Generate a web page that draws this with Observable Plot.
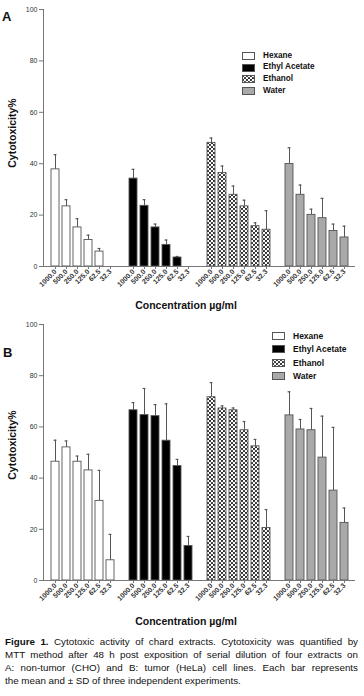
<!DOCTYPE html>
<html><head><meta charset="utf-8">
<script src="https://cdn.jsdelivr.net/npm/d3@7"></script>
<script src="https://cdn.jsdelivr.net/npm/@observablehq/plot@0.6"></script>
<style>
body{margin:0;background:#fff;font-family:"Liberation Sans",Arial,sans-serif;color:#111;}
#wrap{position:relative;width:364px;height:696px;overflow:hidden;}
.abs{position:absolute;}
.letter{font-weight:bold;font-size:13px;line-height:1;}
.ylab{font-weight:bold;font-size:10.5px;line-height:12px;width:90px;height:12px;text-align:center;transform:rotate(-90deg);white-space:nowrap;}
.xlab{left:0;width:372px;text-align:center;font-weight:bold;font-size:10.5px;line-height:12px;}
.legend{font-weight:bold;font-size:8.3px;line-height:1;}
.legend .row{display:flex;align-items:center;}
.legend svg{margin-right:8px;}
.caption{width:353px;font-size:9.8px;line-height:13px;color:#111;}
.caption .ln{white-space:nowrap;text-align:justify;text-align-last:justify;overflow:hidden;height:13px;}
.caption .ln.last{text-align-last:left;}
</style></head>
<body>
<svg width="0" height="0" style="position:absolute">
  <defs>
    <pattern id="chk" width="4" height="4" patternUnits="userSpaceOnUse">
      <rect width="4" height="4" fill="#fff"/>
      <circle cx="1" cy="1" r="1.1" fill="#222"/>
      <circle cx="3" cy="3" r="1.1" fill="#222"/>
    </pattern>
  </defs>
</svg>
<div id="wrap"></div>
<script>
const concentrations = ["1000.0","500.0","250.0","125.0","62.5","32.3"];
const extracts = ["Hexane","Ethyl Acetate","Ethanol","Water"];
const extractColors = ["#ffffff","#000000","url(#chk)","#a9a9a9"];
const yTicks = [0,20,40,60,80,100];

// Panel A: non-tumor (CHO)
const hexaneA = [37.8, 23.4, 15.2, 10.3, 5.8, 0];
const hexaneA_sd = [5.7, 2.6, 3.4, 1.9, 1.2, 0];
const ethylAcetateA = [34.2, 23.6, 15.2, 8.4, 3.5, 0];
const ethylAcetateA_sd = [3.6, 2.4, 1.3, 1.9, 0.4, 0];
const ethanolA = [48.1, 36.4, 27.9, 23.4, 15.7, 14.3];
const ethanolA_sd = [1.9, 2.7, 3.4, 2.4, 1.3, 7.4];
const waterA = [39.9, 27.9, 20.1, 18.8, 13.8, 11.3];
const waterA_sd = [6.3, 3.8, 2.2, 7.7, 2.7, 4.4];

// Panel B: tumor (HeLa)
const hexaneB = [46.4, 52.0, 46.4, 43.0, 31.1, 7.9];
const hexaneB_sd = [8.4, 2.5, 2.2, 6.3, 11.9, 10.1];
const ethylAcetateB = [66.5, 64.6, 64.2, 54.6, 44.7, 13.5];
const ethylAcetateB_sd = [3.0, 10.4, 4.5, 14.4, 2.6, 3.7];
const ethanolB = [71.6, 67.2, 66.5, 58.7, 52.4, 20.5];
const ethanolB_sd = [5.7, 1.0, 0.9, 3.4, 2.7, 7.2];
const waterB = [64.5, 59.0, 58.7, 48.0, 35.1, 22.5];
const waterB_sd = [9.2, 3.9, 8.5, 16.2, 24.7, 5.8];

const captionLines = [
  "<b>Figure 1.</b> Cytotoxic activity of chard extracts. Cytotoxicity was quantified by",
  "MTT method after 48 h post exposition of serial dilution of four extracts on",
  "A: non-tumor (CHO) and B: tumor (HeLa) cell lines. Each bar represents",
  "the mean and ± SD of three independent experiments."
];

function rows(means, sds) {
  const out = [];
  extracts.forEach((e, i) => concentrations.forEach((c, j) =>
    out.push({extract: e, conc: c, mean: means[i][j], sd: sds[i][j]})));
  return out;
}
const dataA = rows([hexaneA, ethylAcetateA, ethanolA, waterA], [hexaneA_sd, ethylAcetateA_sd, ethanolA_sd, waterA_sd]);
const dataB = rows([hexaneB, ethylAcetateB, ethanolB, waterB], [hexaneB_sd, ethylAcetateB_sd, ethanolB_sd, waterB_sd]);

function panel(data, height, marginTop) {
  const err = data.filter(d => d.sd > 0);
  return Plot.plot({
    width: 364, height, marginTop, marginBottom: 30, marginLeft: 42, marginRight: 8,
    style: {fontFamily: "Liberation Sans, Arial, sans-serif", color: "#333", background: "transparent"},
    fx: {domain: extracts, padding: 0, axis: null, label: null},
    x: {domain: concentrations, paddingInner: 0.29, paddingOuter: 0.44, label: null},
    y: {domain: [0, 100], label: null},
    color: {domain: extracts, range: extractColors},
    marks: [
      Plot.ruleX(err, {fx: "extract", x: "conc", y1: "mean", y2: d => d.mean + d.sd, stroke: "#555", strokeWidth: 1}),
      Plot.tickY(err, {fx: "extract", x: "conc", y: d => d.mean + d.sd, stroke: "#555", strokeWidth: 1.2, insetLeft: 2.6, insetRight: 2.6}),
      Plot.barY(data, {fx: "extract", x: "conc", y: "mean", fill: "extract", stroke: "#555", strokeWidth: 0.9}),
      Plot.ruleY([0], {stroke: "#777", strokeWidth: 1}),
      Plot.frame({anchor: "left", fx: "Hexane", stroke: "#777", strokeWidth: 1}),
      Plot.axisY({ticks: yTicks, fontSize: 7, tickSize: 4, tickPadding: 2, label: null, stroke: "#777"}),
      Plot.axisX({tickRotate: -45, fontSize: 7, fontWeight: "bold", tickSize: 3, tickPadding: 1, label: null, stroke: "#777"})
    ]
  });
}

const wrap = document.getElementById("wrap");
function place(el, left, top) { el.classList.add("abs"); el.style.left = left + "px"; el.style.top = top + "px"; wrap.appendChild(el); return el; }

const svgA = panel(dataA, 296, 9);
place(svgA, 0, 0);
const svgB = panel(dataB, 294, 8);
place(svgB, 0, 316);

function div(cls, html, left, top) { const d = document.createElement("div"); d.className = cls; d.innerHTML = html; return place(d, left, top); }

div("letter", "A", 2, 10);
div("letter", "B", 3, 346);
div("ylab", "Cytotoxicity%", -33, 127);
div("ylab", "Cytotoxicity%", -33, 439);
div("xlab", "Concentration µg/ml", 0, 299);
div("xlab", "Concentration µg/ml", 0, 615);

function legend(left, top, rowH, fontSize) {
  const html = extracts.map((e, i) =>
    `<div class="row" style="height:${rowH}px;font-size:${fontSize}px"><svg width="13" height="8"><rect x="0.5" y="0.5" width="12" height="7" fill="${extractColors[i]}" stroke="#555" stroke-width="1"/></svg>${e}</div>`).join("");
  div("legend", html, left, top);
}
legend(242, 50, 11.7, 8.2);
legend(272, 329, 13.5, 8.5);

div("caption", captionLines.map((l, i) =>
  `<div class="ln${i === captionLines.length - 1 ? " last" : ""}">${l}</div>`).join(""), 5, 635);
</script>
</body></html>
